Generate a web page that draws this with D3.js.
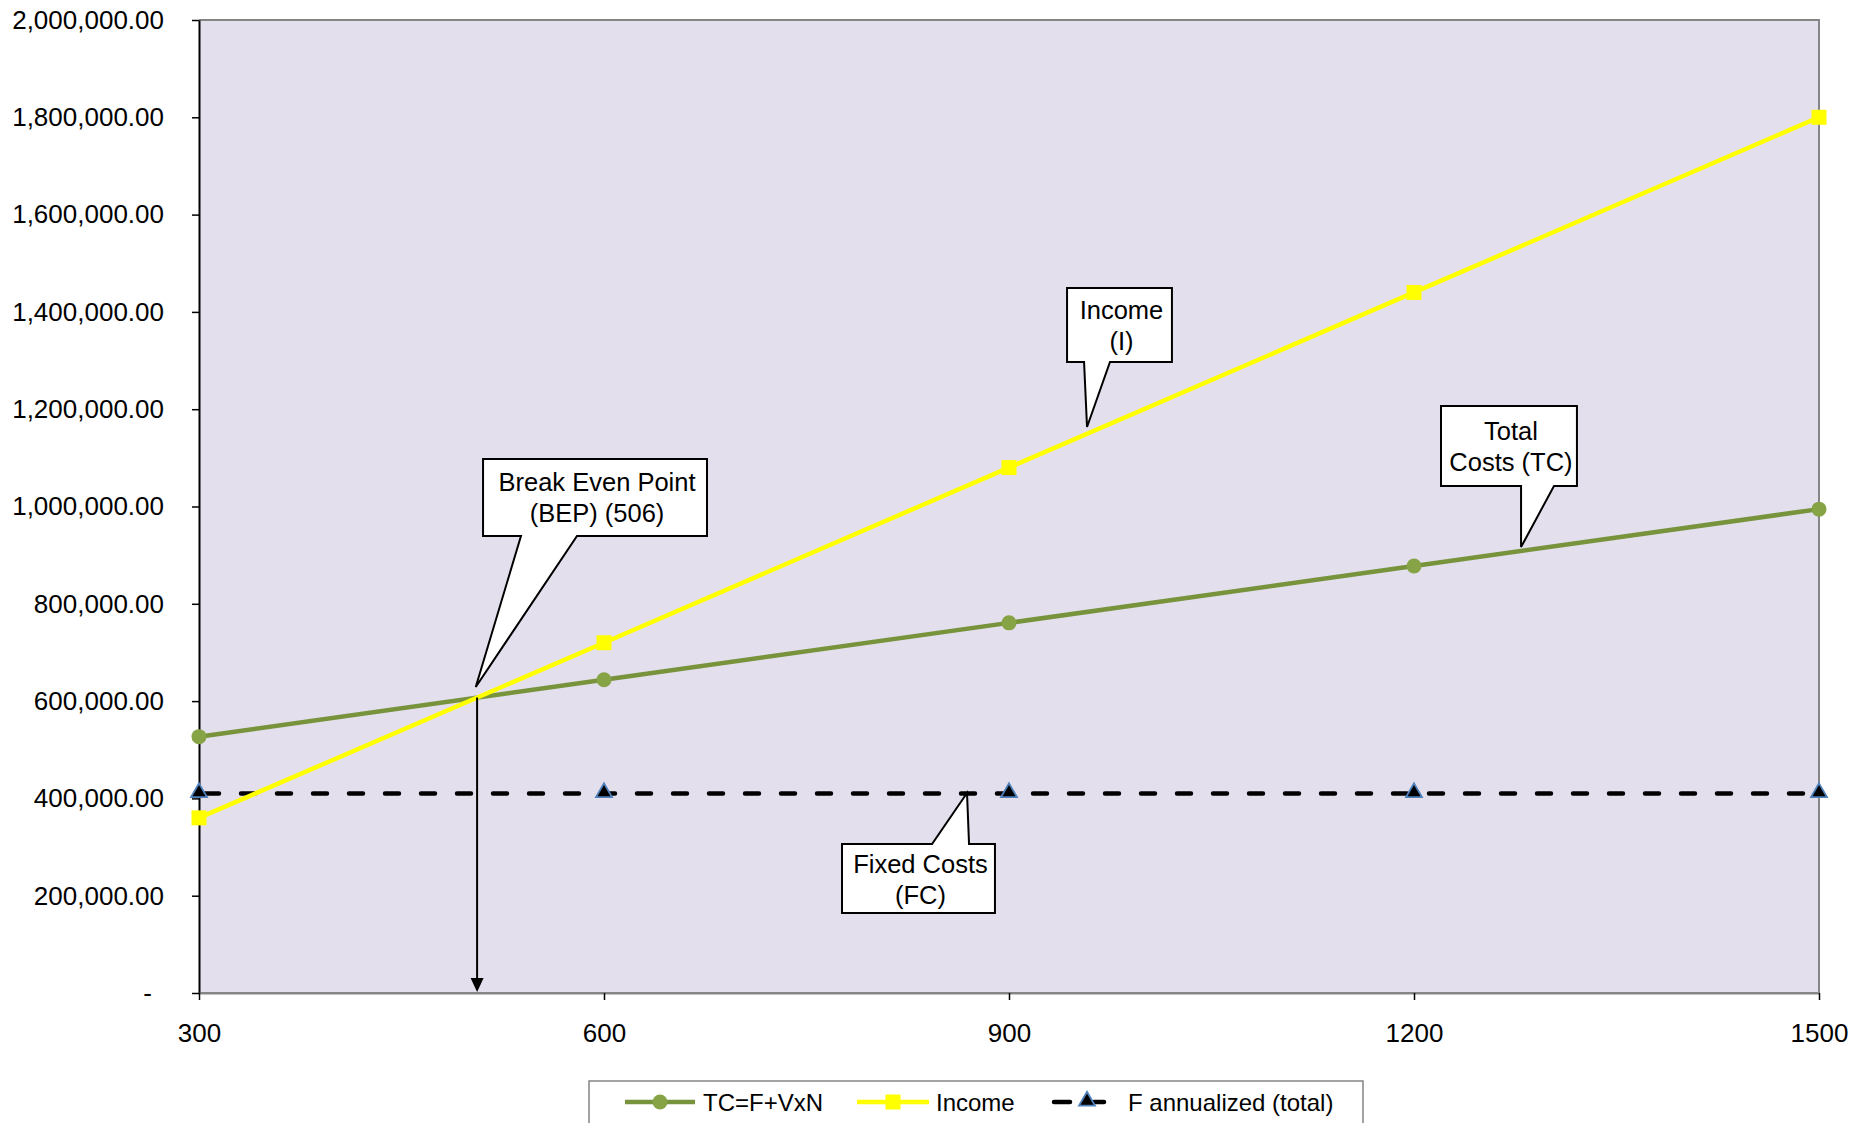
<!DOCTYPE html>
<html>
<head>
<meta charset="utf-8">
<script src="https://cdn.jsdelivr.net/npm/d3@7"></script>
<style>
  html, body { margin: 0; padding: 0; background: #ffffff; }
  svg { display: block; font-family: "Liberation Sans", Arial, sans-serif; }
  svg text { font-family: "Liberation Sans", Arial, sans-serif; fill: #000; }
</style>
</head>
<body>
<svg id="chart" width="1872" height="1123"></svg>
<script>
// Units produced / sold per year
const units = [300, 600, 900, 1200, 1500];
// Total costs TC = F + V x N
const totalCosts = [526900, 643800, 760800, 877700, 994600];
// Income I = price x N
const income = [360000, 720000, 1080000, 1440000, 1800000];
// Fixed costs, annualized
const fixedCosts = [410000, 410000, 410000, 410000, 410000];
// Y axis ticks
const yTicks = [0, 200000, 400000, 600000, 800000, 1000000, 1200000, 1400000, 1600000, 1800000, 2000000];
// Break even quantity
const breakEven = 506;
const breakEvenValue = 607200;

const seriesNames = ["TC=F+VxN", "Income", "F annualized (total)"];

// Callout annotations, expressed in chart units (N, amount)
const callouts = [
  { lines: ["Break Even Point", "(BEP) (506)"], x0: 510.4, x1: 676.3, v0: 1097600, v1: 939400,
    baseL: 538.5, baseR: 580, tipN: 505, tipV: 629000, side: "bottom" },
  { lines: ["Income", "(I)"], x0: 943, x1: 1020.7, v0: 1449100, v1: 1297000,
    baseL: 955.6, baseR: 974.8, tipN: 957.8, tipV: 1163400, side: "bottom" },
  { lines: ["Total", "Costs (TC)"], x0: 1220, x1: 1320.7, v0: 1206600, v1: 1042100,
    baseL: 1279.3, baseR: 1303.7, tipN: 1279.3, tipV: 916800, side: "bottom" },
  { lines: ["Fixed Costs", "(FC)"], x0: 776.3, x1: 889.6, v0: 306300, v1: 164400,
    baseL: 843, baseR: 870.4, tipN: 868.9, tipV: 411100, side: "top" }
];

const svg = d3.select("#chart");
const margin = { left: 199, top: 20 };
const W = 1620, H = 973;

const x = d3.scaleLinear().domain([300, 1500]).range([0, W]);
const y = d3.scaleLinear().domain([0, 2000000]).range([H, 0]);

const g = svg.append("g").attr("transform", `translate(${margin.left},${margin.top})`);

// plot area
g.append("rect").attr("x", 0).attr("y", 0).attr("width", W).attr("height", H)
  .attr("fill", "#E4DFEC");
// plot border (top / right / bottom)
g.append("path")
  .attr("d", `M0,0 H${W} V${H} H0`)
  .attr("fill", "none").attr("stroke", "#858585").attr("stroke-width", 2);

// Y axis
const fmt = d3.format(",.2f");
const yAxis = d3.axisLeft(y).tickValues(yTicks).tickSize(7).tickSizeOuter(0).tickPadding(28)
  .tickFormat(d => d === 0 ? "-" : fmt(d));
const ya = g.append("g").call(yAxis).attr("font-family", null);
ya.select(".domain").attr("stroke", "#000").attr("stroke-width", 2);
ya.selectAll(".tick line").attr("stroke", "#000").attr("stroke-width", 1.5);
ya.selectAll(".tick text").attr("font-size", 26)
  .attr("dx", d => d === 0 ? -12 : 0);

// X axis
const xAxis = d3.axisBottom(x).tickValues(units).tickSize(7).tickSizeOuter(0).tickPadding(24)
  .tickFormat(d => String(d));
const xa = g.append("g").attr("transform", `translate(0,${H})`).call(xAxis).attr("font-family", null);
xa.select(".domain").attr("stroke", "#858585").attr("stroke-width", 2);
xa.selectAll(".tick line").attr("stroke", "#000").attr("stroke-width", 1.5);
xa.selectAll(".tick text").attr("font-size", 26);

const line = d3.line().x(d => x(d[0])).y(d => y(d[1]));

// Fixed costs: dashed black line with triangle markers
g.append("path").datum(d3.zip(units, fixedCosts)).attr("d", line)
  .attr("fill", "none").attr("stroke", "#000").attr("stroke-width", 4.5)
  .attr("stroke-dasharray", "14,22").attr("stroke-linecap", "round")
  .attr("stroke-dashoffset", -6);

// Total costs line
g.append("path").datum(d3.zip(units, totalCosts)).attr("d", line)
  .attr("fill", "none").attr("stroke", "#77933C").attr("stroke-width", 4.5);

// Income line
g.append("path").datum(d3.zip(units, income)).attr("d", line)
  .attr("fill", "none").attr("stroke", "#FFFF00").attr("stroke-width", 4.5);

// markers
const tri = d3.symbol().type(d3.symbolTriangle).size(110);
g.selectAll(".m-fc").data(d3.zip(units, fixedCosts)).join("path")
  .attr("transform", d => `translate(${x(d[0])},${y(d[1]) - 1})`)
  .attr("d", tri).attr("fill", "#000").attr("stroke", "#4F81BD").attr("stroke-width", 1.8);

g.selectAll(".m-tc").data(d3.zip(units, totalCosts)).join("circle")
  .attr("cx", d => x(d[0])).attr("cy", d => y(d[1])).attr("r", 7.5)
  .attr("fill", "#86A346");

g.selectAll(".m-in").data(d3.zip(units, income)).join("rect")
  .attr("x", d => x(d[0]) - 7.5).attr("y", d => y(d[1]) - 7.5)
  .attr("width", 15).attr("height", 15).attr("fill", "#FFFF00");

// Break-even arrow down to the axis
const bx = x(breakEven);
g.append("line")
  .attr("x1", bx).attr("x2", bx)
  .attr("y1", y(breakEvenValue)).attr("y2", H - 12)
  .attr("stroke", "#000").attr("stroke-width", 2);
g.append("path")
  .attr("d", `M${bx - 6.5},${H - 15} L${bx + 6.5},${H - 15} L${bx},${H - 1} Z`)
  .attr("fill", "#000");

// Callouts
callouts.forEach(c => {
  const X0 = x(c.x0), X1 = x(c.x1), Y0 = y(c.v0), Y1 = y(c.v1);
  const bL = x(c.baseL), bR = x(c.baseR), tx = x(c.tipN), ty = y(c.tipV);
  let d;
  if (c.side === "bottom") {
    d = `M${X0},${Y0} H${X1} V${Y1} H${bR} L${tx},${ty} L${bL},${Y1} H${X0} Z`;
  } else {
    d = `M${X0},${Y0} H${bL} L${tx},${ty} L${bR},${Y0} H${X1} V${Y1} H${X0} Z`;
  }
  g.append("path").attr("d", d).attr("fill", "#fff")
    .attr("stroke", "#000").attr("stroke-width", 2).attr("stroke-linejoin", "miter");
  const cx = (X0 + X1) / 2 + 2;
  const mid = (Y0 + Y1) / 2;
  c.lines.forEach((t, i) => {
    g.append("text").attr("x", cx).attr("y", mid + (i === 0 ? -6 : 25))
      .attr("text-anchor", "middle").attr("font-size", 25.5).text(t);
  });
});

// Legend
const lg = svg.append("g");
lg.append("rect").attr("x", 589).attr("y", 1081).attr("width", 774).attr("height", 60)
  .attr("fill", "#fff").attr("stroke", "#858585").attr("stroke-width", 1.5);
const ly = 1102;
// TC entry
lg.append("line").attr("x1", 625).attr("x2", 695).attr("y1", ly).attr("y2", ly)
  .attr("stroke", "#77933C").attr("stroke-width", 4.5);
lg.append("circle").attr("cx", 660).attr("cy", ly).attr("r", 7.5).attr("fill", "#86A346");
lg.append("text").attr("x", 703).attr("y", 1111).attr("font-size", 24).text(seriesNames[0]);
// Income entry
lg.append("line").attr("x1", 857).attr("x2", 929).attr("y1", ly).attr("y2", ly)
  .attr("stroke", "#FFFF00").attr("stroke-width", 4.5);
lg.append("rect").attr("x", 893 - 7.5).attr("y", ly - 7.5).attr("width", 15).attr("height", 15)
  .attr("fill", "#FFFF00");
lg.append("text").attr("x", 936).attr("y", 1111).attr("font-size", 24).text(seriesNames[1]);
// Fixed costs entry
lg.append("line").attr("x1", 1054).attr("x2", 1070).attr("y1", ly).attr("y2", ly)
  .attr("stroke", "#000").attr("stroke-width", 4.5).attr("stroke-linecap", "round");
lg.append("line").attr("x1", 1094).attr("x2", 1104).attr("y1", ly).attr("y2", ly)
  .attr("stroke", "#000").attr("stroke-width", 4.5).attr("stroke-linecap", "round");
lg.append("path").attr("transform", `translate(1087,${ly - 1})`).attr("d", tri)
  .attr("fill", "#000").attr("stroke", "#4F81BD").attr("stroke-width", 1.8);
lg.append("text").attr("x", 1128).attr("y", 1111).attr("font-size", 24).text(seriesNames[2]);
</script>
</body>
</html>
